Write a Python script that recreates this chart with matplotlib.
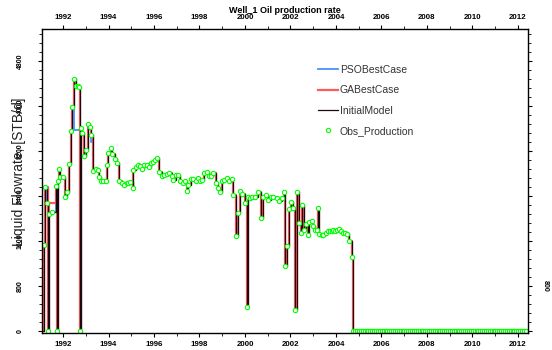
import numpy as np
import matplotlib
matplotlib.use("Agg")
import matplotlib.pyplot as plt
from matplotlib.ticker import MultipleLocator
import matplotlib.transforms as mtransforms

plt.rcParams.update({
    "font.family": ["Liberation Sans", "DejaVu Sans"],
})

obs_years = [
    1991.15, 1991.23, 1991.29, 1991.33, 1991.40, 1991.53, 1991.68, 1991.74, 1991.77, 1991.82,
    1991.87, 1992.01, 1992.09, 1992.16, 1992.26, 1992.34, 1992.41, 1992.48, 1992.57, 1992.64,
    1992.69, 1992.73, 1992.77, 1992.84, 1992.92, 1993.01, 1993.09, 1993.19, 1993.23, 1993.33,
    1993.45, 1993.53, 1993.58, 1993.67, 1993.77, 1993.88, 1993.92, 1993.99, 1994.10, 1994.17,
    1994.29, 1994.39, 1994.47, 1994.58, 1994.68, 1994.80, 1994.87, 1994.95, 1995.06, 1995.09,
    1995.20, 1995.28, 1995.38, 1995.49, 1995.57, 1995.68, 1995.78, 1995.86, 1995.94, 1996.04,
    1996.12, 1996.23, 1996.34, 1996.45, 1996.56, 1996.67, 1996.78, 1996.85, 1996.97, 1997.07,
    1997.14, 1997.26, 1997.36, 1997.44, 1997.51, 1997.61, 1997.73, 1997.83, 1997.92, 1998.02,
    1998.12, 1998.21, 1998.32, 1998.42, 1998.51, 1998.61, 1998.73, 1998.83, 1998.90, 1999.00,
    1999.09, 1999.20, 1999.31, 1999.42, 1999.49, 1999.59, 1999.68, 1999.78, 1999.88, 2000.00,
    2000.07, 2000.13, 2000.22, 2000.32, 2000.44, 2000.59, 2000.69, 2000.80, 2000.91, 2001.02,
    2001.13, 2001.24, 2001.39, 2001.51, 2001.61, 2001.71, 2001.77, 2001.86, 2001.95, 2002.02,
    2002.10, 2002.20, 2002.27, 2002.36, 2002.45, 2002.52, 2002.61, 2002.70, 2002.78, 2002.83,
    2002.93, 2003.00, 2003.08, 2003.15, 2003.20, 2003.27, 2003.37, 2003.44, 2003.55, 2003.66,
    2003.73, 2003.81, 2003.88, 2003.96, 2004.06, 2004.15, 2004.22, 2004.29, 2004.40, 2004.50,
    2004.59, 2004.69,
]
obs_rates = [
    1530, 2560, 2270, 0, 2080, 2120, 2580, 0, 2660, 2880,
    2740, 2740, 2380, 2480, 2970, 3550, 3980, 4480, 4360, 4350,
    4340, 0, 3610, 3520, 3120, 3220, 3680, 3620, 3480, 2850,
    2880, 2860, 2740, 2660, 2660, 2660, 2960, 3170, 3260, 3150,
    3060, 2980, 2660, 2630, 2600, 2630, 2640, 2650, 2540, 2870,
    2920, 2950, 2930, 2880, 2950, 2960, 2920, 2980, 3010, 3040,
    3070, 2830, 2750, 2780, 2790, 2810, 2750, 2690, 2770, 2780,
    2660, 2640, 2660, 2490, 2600, 2700, 2700, 2670, 2720, 2670,
    2690, 2810, 2830, 2750, 2750, 2810, 2630, 2540, 2470, 2660,
    2690, 2720, 2670, 2700, 2410, 1690, 2100, 2490, 2440, 2270,
    430, 2380, 2370, 2380, 2380, 2470, 2010, 2390, 2410, 2330,
    2380, 2390, 2370, 2310, 2370, 2470, 1160, 1510, 2160, 2300,
    2180, 370, 2470, 1920, 1740, 2240, 1800, 1900, 1700, 1940,
    1950, 1860, 1790, 1800, 2190, 1730, 1710, 1710, 1750, 1780,
    1780, 1780, 1790, 1780, 1800, 1820, 1780, 1750, 1740, 1730,
    1600, 1310,
]
# well shut in: monthly zero readings to the end of the record
shutin_start, shutin_end = 2004.76, 2012.41
shutin_years = list(np.arange(shutin_start, shutin_end, 1 / 12))
shutin_rates = [0] * len(shutin_years)

# simulations start from zero rate
sim_start = 1991.10

# where the optimised cases leave the history
ga_fix_years = [1991.29, 1991.40, 1991.53]
ga_fix_rates = [2560, 2270, 2270]
pso_fix_years = [1992.48, 1992.57, 1992.64, 1992.69, 1993.23]
pso_fix_rates = [3570, 3570, 3570, 3570, 3360]

years = [sim_start] + obs_years + shutin_years
initial = [0] + obs_rates + shutin_rates
ga = list(initial)
for yr, v in zip(ga_fix_years, ga_fix_rates):
    ga[years.index(yr)] = v
pso = list(initial)
for yr, v in zip(pso_fix_years, pso_fix_rates):
    pso[years.index(yr)] = v

fig = plt.figure(figsize=(5.52, 3.5), dpi=100)
ax = fig.add_axes([0.0761, 0.0486, 0.8804, 0.8686])

ax.plot(years, pso, drawstyle="steps-post", color="#4a90ff", lw=1.3, label="PSOBestCase")
ax.plot(years, ga, drawstyle="steps-post", color="#ff5a5a", lw=1.6, label="GABestCase")
ax.plot(years, initial, drawstyle="steps-post", color="#1a0a10", lw=0.9, label="InitialModel")
ax.plot(obs_years + shutin_years, obs_rates + shutin_rates, ls="none", marker="o",
        ms=3.1, mfc="white", mec="#00ff00", mew=0.8, label="Obs_Production")

ax.set_xlim(1991.077, 2012.44)
ax.set_ylim(-36, 5370)

ax.xaxis.set_major_locator(MultipleLocator(2))
ax.xaxis.set_minor_locator(MultipleLocator(1))
ax.yaxis.set_major_locator(MultipleLocator(800))
ax.yaxis.set_minor_locator(MultipleLocator(160))
ax.tick_params(axis="x", which="both", direction="out", top=True, labeltop=True,
               labelsize=5.7, pad=2.5)
ax.tick_params(axis="x", which="major", length=3)
ax.tick_params(axis="x", which="minor", length=2)
ax.tick_params(axis="y", which="both", direction="out", right=True, labelsize=5, pad=10)
ax.tick_params(axis="y", which="major", length=3)
ax.tick_params(axis="y", which="minor", length=2)
for lab in ax.get_xticklabels():
    lab.set_fontweight("bold")
for lab in ax.get_yticklabels():
    lab.set_fontweight("bold")
    lab.set_rotation(90)
    lab.set_va("center")
for s in ax.spines.values():
    s.set_linewidth(1.0)

ax.set_ylabel("Liquid Flowrate, [STB/d]", fontsize=10, color="#222222")
ax.yaxis.set_label_coords(-0.033, 0.53)

trans = mtransforms.blended_transform_factory(ax.transAxes, ax.transData)
ax.text(1.035, 800, "800", transform=trans, rotation=270, fontsize=5, fontweight="bold",
        ha="center", va="center")

fig.text(0.516, 0.969, "Well_1 Oil production rate", ha="center", va="center",
         fontsize=6.5, fontweight="bold")

leg = ax.legend(loc="upper left", bbox_to_anchor=(0.568, 0.882), frameon=False,
                fontsize=7.5, numpoints=1, handlelength=1.9, handletextpad=0.2,
                labelspacing=1.0, borderpad=0, borderaxespad=0)
for t in leg.get_texts():
    t.set_color("#333333")

fig.savefig("out.png", dpi=100)
